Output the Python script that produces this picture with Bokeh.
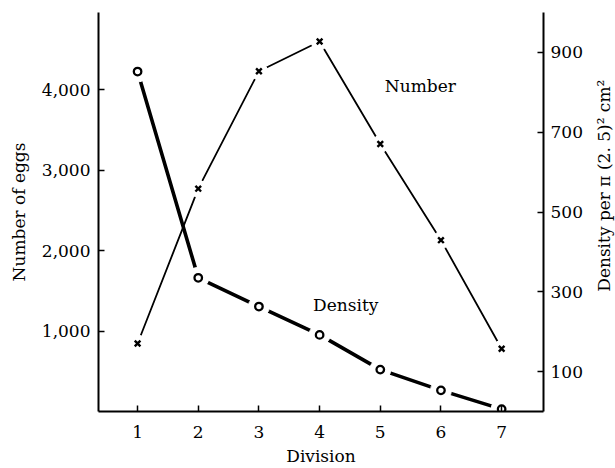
import math
from bokeh.plotting import figure
from bokeh.layouts import row
from bokeh.models import Range1d, LinearAxis, FixedTicker, NumeralTickFormatter, Label
from bokeh.embed import file_html
from bokeh.resources import INLINE

division = [1, 2, 3, 4, 5, 6, 7]
number_of_eggs = [845, 2770, 4230, 4600, 3325, 2130, 780]
density = [852, 335, 263, 192, 105, 53, 6]

left_ticks = [1000, 2000, 3000, 4000]
right_ticks = [100, 300, 500, 700, 900]

FONT = "DejaVu Serif"

p = figure(width=585, height=468, output_backend="svg", toolbar_location=None,
           x_range=Range1d(0.356, 7.69), y_range=Range1d(0, 4960),
           min_border_left=98, min_border_right=42, min_border_top=12, min_border_bottom=54)
p.extra_y_ranges = {"dens": Range1d(0, 1000)}
p.outline_line_color = None
p.background_fill_color = "white"
p.border_fill_color = "white"
p.xgrid.visible = False
p.ygrid.visible = False

# lines (underlay so that white patches can open gaps around the markers)
l1 = p.line(division, number_of_eggs, line_color="black", line_width=1.8)
l2 = p.line(division, density, line_color="black", line_width=3.6, y_range_name="dens")
l1.level = "underlay"
l2.level = "underlay"
# white gaps around markers
p.scatter(division, number_of_eggs, marker="circle", size=17, fill_color="white",
          line_color="white", line_width=1)
p.scatter(division, density, marker="circle", size=21, fill_color="white",
          line_color="white", line_width=1, y_range_name="dens")
# markers
p.scatter(division, number_of_eggs, marker="x", size=8, line_color="black", line_width=2.4)
p.scatter(division, density, marker="circle", size=7.5, fill_color="white", line_color="black",
          line_width=2.3, y_range_name="dens")

right = LinearAxis(y_range_name="dens")
p.add_layout(right, "right")

for ax in [p.xaxis[0], p.yaxis[0], right]:
    ax.axis_line_width = 2
    ax.axis_line_color = "black"
    ax.major_tick_in = 6
    ax.major_tick_out = 0
    ax.major_tick_line_width = 1.5
    ax.minor_tick_line_color = None
    ax.major_label_text_font = FONT
    ax.major_label_text_font_size = "17px"
    ax.major_label_text_color = "black"
    ax.axis_label_text_font = FONT
    ax.axis_label_text_font_size = "17px"
    ax.axis_label_text_font_style = "normal"
    ax.axis_label_text_color = "black"

p.xaxis[0].ticker = FixedTicker(ticks=division)
p.xaxis[0].axis_label = "Division"
p.xaxis[0].major_label_standoff = 14
p.xaxis[0].axis_label_standoff = 5

p.yaxis[0].ticker = FixedTicker(ticks=left_ticks)
p.yaxis[0].formatter = NumeralTickFormatter(format="0,0")
p.yaxis[0].axis_label = "Number of eggs"
p.yaxis[0].major_label_standoff = 8
p.yaxis[0].axis_label_standoff = 10

right.ticker = FixedTicker(ticks=right_ticks)
right.major_label_standoff = 7
right.axis_label = None

p.add_layout(Label(x=5.66, y=4050, text="Number", text_font=FONT, text_font_size="17px",
                   text_align="center", text_baseline="middle", text_color="black"))
p.add_layout(Label(x=4.43, y=1320, text="Density", text_font=FONT, text_font_size="17px",
                   text_align="center", text_baseline="middle", text_color="black"))

# narrow panel holding the right axis title, reading bottom-to-top
q = figure(width=30, height=468, output_backend="svg", toolbar_location=None,
           x_range=Range1d(0, 30), y_range=Range1d(0, 468),
           min_border_left=0, min_border_right=0, min_border_top=0, min_border_bottom=0)
q.xaxis.visible = False
q.yaxis.visible = False
q.xgrid.visible = False
q.ygrid.visible = False
q.outline_line_color = None
q.background_fill_color = "white"
q.border_fill_color = "white"
q.add_layout(Label(x=18, y=268, text="Density per  \u03c0 (2. 5)\u00b2 cm\u00b2", angle=math.pi / 2,
                   text_font=FONT, text_font_size="17px", text_align="center",
                   text_baseline="middle", text_color="black"))

layout = row(p, q, spacing=0)
open("out.html", "w").write(file_html(layout, INLINE))
